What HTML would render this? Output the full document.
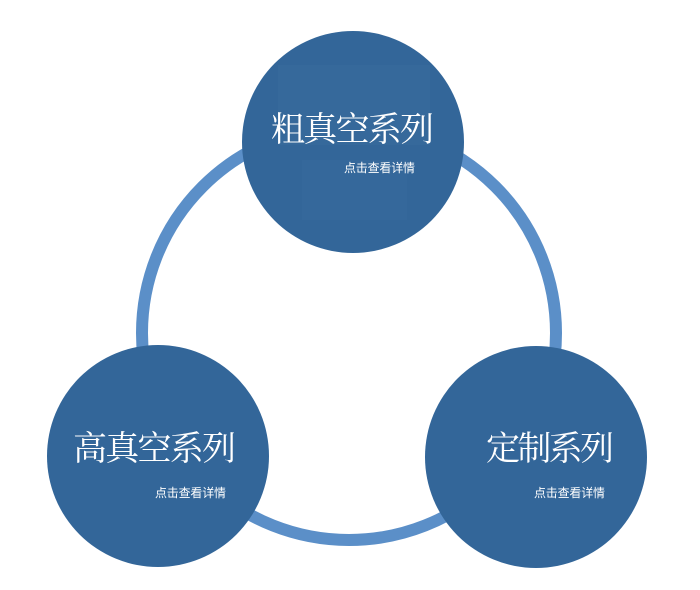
<!DOCTYPE html>
<html><head><meta charset="utf-8"><style>
html,body{margin:0;padding:0;background:#fff;}
svg{display:block;}
.t{font-family:"Liberation Serif","Noto Serif CJK SC",serif;font-size:34px;fill:#fff;}
.s{font-family:"Liberation Sans","Noto Sans CJK SC",sans-serif;font-size:12px;fill:#fff;}
</style></head><body>
<svg width="700" height="590" viewBox="0 0 700 590">
<circle cx="349" cy="333" r="207" fill="none" stroke="#5b8fc8" stroke-width="12"/>
<circle cx="353" cy="142" r="111" fill="#336699"/>
<rect x="278" y="65" width="152" height="80" fill="#3a6c9e" opacity="0.5"/>
<rect x="302" y="160" width="105" height="60" fill="#3a6c9e" opacity="0.4"/>
<circle cx="158" cy="456" r="111" fill="#336699"/>
<circle cx="536" cy="457" r="111" fill="#336699"/>
<text class="t" x="271" y="141" textLength="163">粗真空系列</text>
<text class="s" x="344" y="172" textLength="71">点击查看详情</text>
<text class="t" x="73" y="460" textLength="163">高真空系列</text>
<text class="s" x="155" y="497" textLength="71">点击查看详情</text>
<text class="t" x="486" y="460" textLength="128">定制系列</text>
<text class="s" x="534" y="497" textLength="71">点击查看详情</text>
</svg>
</body></html>
